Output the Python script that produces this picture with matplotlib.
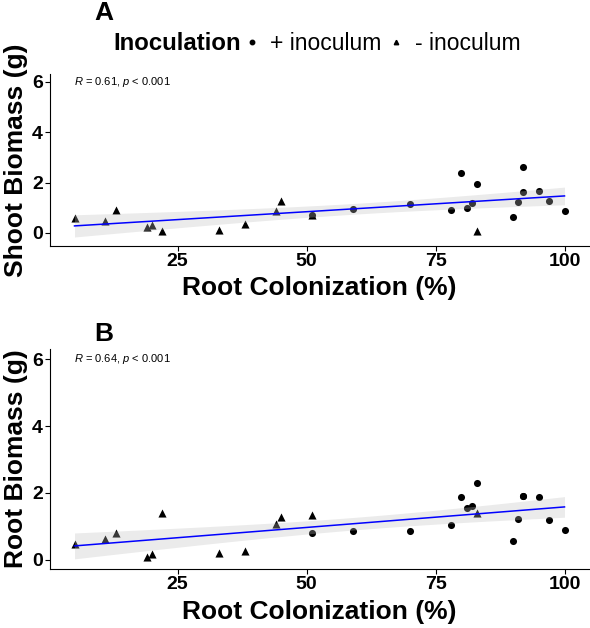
import matplotlib
matplotlib.use("Agg")
import matplotlib.pyplot as plt
import numpy as np
from matplotlib.lines import Line2D

plt.rcParams["font.family"] = ["Liberation Sans", "DejaVu Sans"]
plt.rcParams["mathtext.fontset"] = "custom"
plt.rcParams["mathtext.rm"] = "Liberation Sans"
plt.rcParams["mathtext.it"] = "Liberation Sans:italic"

# root colonization (%) per plant
col_minus = [5, 11, 13, 19, 20, 22, 33, 38, 44, 45, 51, 83]
col_plus = [51, 59, 70, 78, 80, 81, 82, 83, 90, 91, 92, 92, 95, 97, 100]

# shoot biomass (g)
shoot_minus = [0.61, 0.48, 0.90, 0.25, 0.30, 0.08, 0.13, 0.37, 0.86, 1.27, 0.73, 0.09]
shoot_plus = [0.71, 0.96, 1.13, 0.92, 2.38, 0.99, 1.19, 1.94, 0.65, 1.21, 2.62, 1.62,
              1.68, 1.27, 0.86]

# root biomass (g)
root_minus = [0.48, 0.62, 0.80, 0.09, 0.18, 1.40, 0.22, 0.26, 1.06, 1.29, 1.33, 1.40]
root_plus = [0.80, 0.87, 0.85, 1.03, 1.88, 1.55, 1.62, 2.31, 0.57, 1.23, 1.91, 1.90,
             1.88, 1.18, 0.88]

panels = [
    ("A", "Shoot Biomass (g)", shoot_minus, shoot_plus, "0.61", (-0.5, 6.3)),
    ("B", "Root Biomass (g)", root_minus, root_plus, "0.64", (-0.27, 6.3)),
]

W, H = 590, 628
fig = plt.figure(figsize=(W / 100, H / 100), dpi=100)

# axes boxes in pixels: (left, top, right, bottom)
boxes = [(50, 74, 589, 245.6), (50, 349, 589, 569)]
T975 = 2.06  # t quantile, df = 25


def fit_band(x, y):
    x = np.asarray(x, float)
    y = np.asarray(y, float)
    n = len(x)
    b, a = np.polyfit(x, y, 1)
    resid = y - (a + b * x)
    s = np.sqrt(np.sum(resid ** 2) / (n - 2))
    xs = np.linspace(x.min(), x.max(), 100)
    se = s * np.sqrt(1 / n + (xs - x.mean()) ** 2 / np.sum((x - x.mean()) ** 2))
    yh = a + b * xs
    return xs, yh, yh - T975 * se, yh + T975 * se


for (lab, ylab, ym, yp, r, ylim), (l, t, rr, bt) in zip(panels, boxes):
    ax = fig.add_axes([l / W, 1 - bt / H, (rr - l) / W, (bt - t) / H])
    ax.scatter(col_plus, yp, marker="o", s=26, color="black", linewidths=0, zorder=2)
    ax.scatter(col_minus, ym, marker="^", s=34, color="black", linewidths=0, zorder=2)
    xs, yh, lo, hi = fit_band(col_minus + col_plus, ym + yp)
    ax.fill_between(xs, lo, hi, color="#bdbdbd", alpha=0.3, linewidth=0, zorder=3)
    ax.plot(xs, yh, color="blue", lw=1.1, zorder=4)
    ax.text(5, 6, rf"$\mathit{{R}}$ = {r}, $\mathit{{p}}$ < 0.001", fontsize=8,
            ha="left", va="center")

    ax.set_xlim(0.25, 104.75)
    ax.set_ylim(*ylim)
    ax.set_xticks([25, 50, 75, 100])
    ax.set_yticks([0, 2, 4, 6])
    for side in ("top", "right"):
        ax.spines[side].set_visible(False)
    for side in ("left", "bottom"):
        ax.spines[side].set_linewidth(0.8)
    ax.tick_params(length=3.5, width=0.8, pad=1.5, labelsize=14)
    for tl in ax.get_xticklabels() + ax.get_yticklabels():
        tl.set_fontweight("bold")
    ax.set_xlabel("Root Colonization (%)", fontsize=19, fontweight="bold", labelpad=5)
    ax.set_ylabel(ylab, fontsize=19, fontweight="bold", labelpad=3)

    fig.text(94 / W, 1 - (13 if lab == "A" else 334) / H, lab,
             fontsize=19, fontweight="bold", ha="left", va="center")

# legend row above panel A
fig.text(113 / W, 1 - 44 / H, "Inoculation", fontsize=17.3, fontweight="bold",
         ha="left", va="center")
handles = [Line2D([], [], marker="o", ls="", color="black", markersize=3.2),
           Line2D([], [], marker="^", ls="", color="black", markersize=3.2)]
fig.legend(handles, ["+ inoculum", "- inoculum"], ncol=2, loc="center left",
           bbox_to_anchor=(245 / W, 1 - 44 / H), frameon=False, fontsize=16.5,
           handlelength=0.6, handletextpad=0.5, columnspacing=0.35, borderpad=0,
           borderaxespad=0)

fig.savefig("out.png", dpi=100, facecolor="white")
